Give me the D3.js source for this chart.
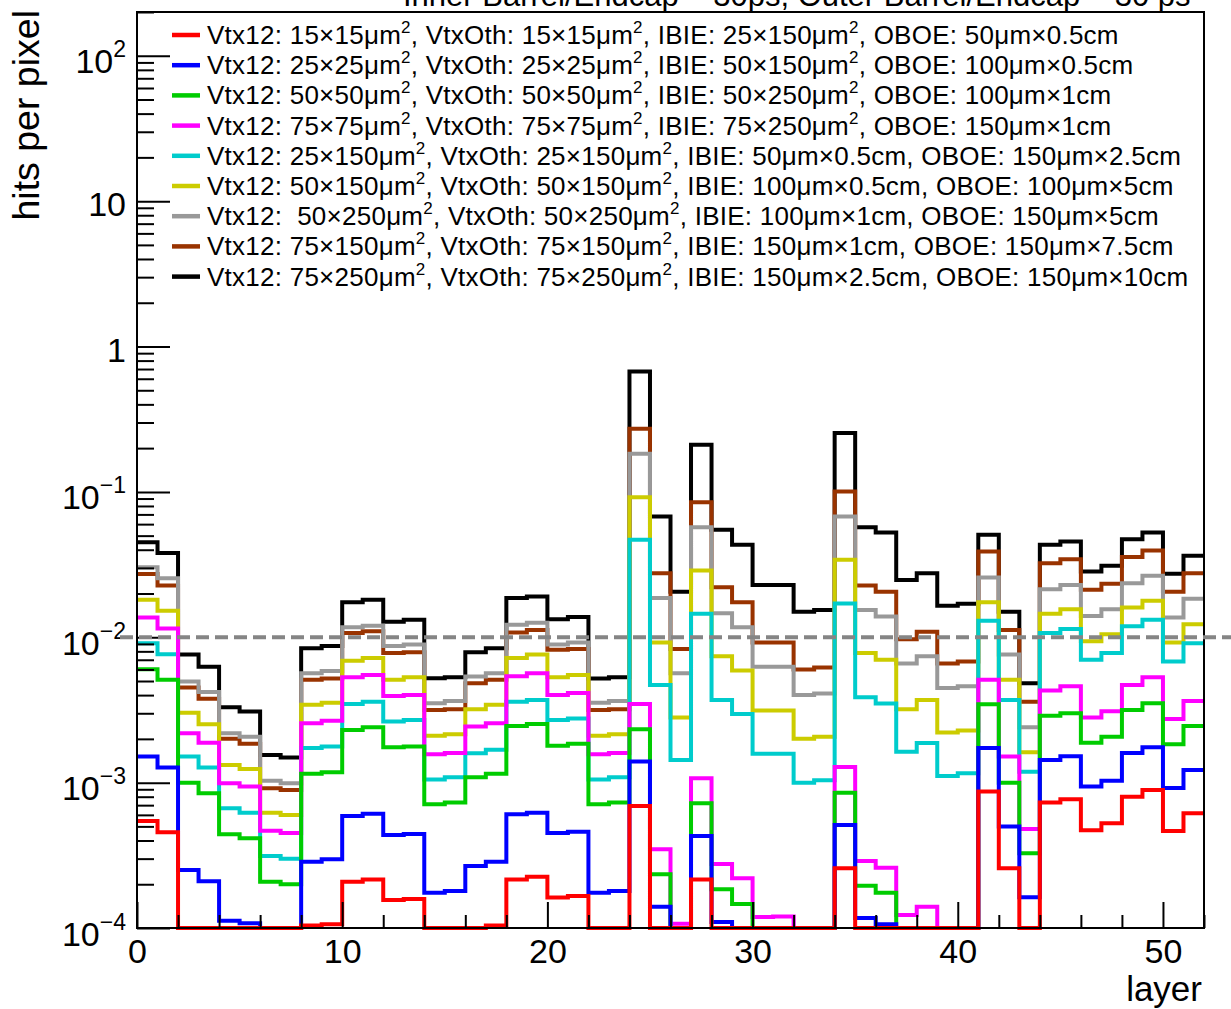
<!DOCTYPE html>
<html>
<head>
<meta charset="utf-8">
<script src="https://cdn.jsdelivr.net/npm/d3@7"></script>
<style>
  html, body { margin: 0; padding: 0; background: #ffffff; }
  svg { display: block; font-family: "Liberation Sans", Arial, Helvetica, sans-serif; }
  text { white-space: pre; }
</style>
</head>
<body>
<svg id="chart" width="1231" height="1009"></svg>
<script>
// ---- data: hits per pixel for each of the 52 layers (bin i covers [i, i+1)) ----
const layerEdges = d3.range(53);

const hits15x15 = [5.45e-4, 4.55e-4, 0, 0, 0, 0, 0, 0, 1.04e-4, 1.06e-4,
  2.08e-4, 2.16e-4, 1.56e-4, 1.58e-4, 0, 0, 0, 1.04e-4, 2.16e-4, 2.25e-4,
  1.62e-4, 1.66e-4, 0, 0, 6.9e-4, 0, 0, 2.16e-4, 0, 0,
  0, 0, 0, 0, 2.58e-4, 0, 0, 0, 0, 0,
  0, 8.7e-4, 2.58e-4, 0, 7.3e-4, 7.7e-4, 4.7e-4, 5.25e-4, 8.0e-4, 8.9e-4,
  4.65e-4, 6.15e-4];

const hits25x25 = [1.51e-3, 1.27e-3, 2.51e-4, 2.1e-4, 1.12e-4, 1.08e-4, 0, 0, 2.86e-4, 2.97e-4,
  5.9e-4, 6.1e-4, 4.37e-4, 4.43e-4, 1.75e-4, 1.8e-4, 2.67e-4, 2.86e-4, 6.06e-4, 6.2e-4,
  4.5e-4, 4.6e-4, 1.75e-4, 1.8e-4, 1.4e-3, 1.4e-4, 0, 4.3e-4, 1.1e-4, 0,
  0, 0, 0, 0, 5.12e-4, 1.17e-4, 1.06e-4, 0, 0, 0,
  0, 1.73e-3, 5.0e-4, 1.63e-4, 1.43e-3, 1.52e-3, 9.4e-4, 1.03e-3, 1.6e-3, 1.75e-3,
  9.2e-4, 1.22e-3];

const hits50x50 = [6.03e-3, 5.1e-3, 1.0e-3, 8.45e-4, 4.41e-4, 4.14e-4, 2.08e-4, 2.0e-4, 1.15e-3, 1.18e-3,
  2.3e-3, 2.4e-3, 1.75e-3, 1.77e-3, 7.1e-4, 7.3e-4, 1.09e-3, 1.15e-3, 2.45e-3, 2.53e-3,
  1.79e-3, 1.85e-3, 7.1e-4, 7.3e-4, 2.33e-3, 2.34e-4, 0, 7.2e-4, 1.85e-4, 1.46e-4,
  0, 0, 0, 0, 8.53e-4, 1.95e-4, 1.75e-4, 0, 0, 0,
  0, 3.46e-3, 1.0e-3, 3.27e-4, 2.88e-3, 3.0e-3, 1.88e-3, 2.07e-3, 3.16e-3, 3.52e-3,
  1.84e-3, 2.45e-3];

const hits75x75 = [1.37e-2, 1.15e-2, 2.19e-3, 1.88e-3, 9.9e-4, 9.4e-4, 4.67e-4, 4.5e-4, 2.56e-3, 2.66e-3,
  5.3e-3, 5.5e-3, 3.95e-3, 4.0e-3, 1.57e-3, 1.6e-3, 2.43e-3, 2.56e-3, 5.4e-3, 5.66e-3,
  4.0e-3, 4.14e-3, 1.57e-3, 1.6e-3, 3.48e-3, 3.48e-4, 1.07e-4, 1.07e-3, 2.76e-4, 2.2e-4,
  1.19e-4, 1.2e-4, 0, 0, 1.28e-3, 2.89e-4, 2.6e-4, 1.23e-4, 1.4e-4, 0,
  0, 5.1e-3, 1.51e-3, 4.8e-4, 4.3e-3, 4.6e-3, 2.8e-3, 3.1e-3, 4.7e-3, 5.3e-3,
  2.74e-3, 3.65e-3];

const hits25x150 = [9.1e-3, 7.65e-3, 1.51e-3, 1.27e-3, 6.67e-4, 6.2e-4, 3.13e-4, 3.0e-4, 1.73e-3, 1.77e-3,
  3.48e-3, 3.6e-3, 2.63e-3, 2.7e-3, 1.05e-3, 1.09e-3, 1.59e-3, 1.68e-3, 3.6e-3, 3.7e-3,
  2.7e-3, 2.76e-3, 1.05e-3, 1.09e-3, 4.68e-2, 4.7e-3, 1.43e-3, 1.45e-2, 3.7e-3, 2.96e-3,
  1.58e-3, 1.58e-3, 1.0e-3, 1.04e-3, 1.71e-2, 3.87e-3, 3.5e-3, 1.63e-3, 1.87e-3, 1.11e-3,
  1.16e-3, 1.3e-2, 3.7e-3, 1.19e-3, 1.07e-2, 1.14e-2, 7.0e-3, 7.8e-3, 1.19e-2, 1.32e-2,
  6.8e-3, 9.1e-3];

const hits50x150 = [1.81e-2, 1.52e-2, 3.03e-3, 2.52e-3, 1.32e-3, 1.24e-3, 6.2e-4, 6.0e-4, 3.43e-3, 3.55e-3,
  6.9e-3, 7.2e-3, 5.1e-3, 5.3e-3, 2.1e-3, 2.15e-3, 3.2e-3, 3.43e-3, 7.2e-3, 7.6e-3,
  5.3e-3, 5.5e-3, 2.1e-3, 2.15e-3, 9.2e-2, 9.2e-3, 2.8e-3, 2.88e-2, 7.4e-3, 5.9e-3,
  3.13e-3, 3.13e-3, 2.0e-3, 2.07e-3, 3.41e-2, 7.8e-3, 7.0e-3, 3.2e-3, 3.7e-3, 2.21e-3,
  2.28e-3, 1.74e-2, 5.1e-3, 1.62e-3, 1.45e-2, 1.56e-2, 9.4e-3, 1.05e-2, 1.6e-2, 1.78e-2,
  9.2e-3, 1.23e-2];

const hits50x250 = [3.03e-2, 2.55e-2, 4.96e-3, 4.2e-3, 2.19e-3, 2.07e-3, 1.03e-3, 9.9e-4, 5.66e-3, 5.87e-3,
  1.17e-2, 1.2e-2, 8.7e-3, 8.9e-3, 3.52e-3, 3.65e-3, 5.37e-3, 5.66e-3, 1.22e-2, 1.26e-2,
  8.9e-3, 9.2e-3, 3.55e-3, 3.65e-3, 0.183, 1.86e-2, 5.66e-3, 5.72e-2, 1.46e-2, 1.17e-2,
  6.28e-3, 6.28e-3, 4.0e-3, 4.1e-3, 6.78e-2, 1.54e-2, 1.39e-2, 6.6e-3, 7.4e-3, 4.47e-3,
  4.6e-3, 2.58e-2, 7.6e-3, 2.4e-3, 2.14e-2, 2.29e-2, 1.40e-2, 1.56e-2, 2.35e-2, 2.65e-2,
  1.37e-2, 1.84e-2];

const hits75x150 = [2.72e-2, 2.27e-2, 4.51e-3, 3.77e-3, 2.0e-3, 1.85e-3, 9.15e-4, 8.9e-4, 5.1e-3, 5.2e-3,
  1.07e-2, 1.1e-2, 7.8e-3, 7.9e-3, 3.16e-3, 3.2e-3, 4.83e-3, 5.1e-3, 1.08e-2, 1.12e-2,
  8.2e-3, 8.3e-3, 3.16e-3, 3.2e-3, 0.272, 2.76e-2, 8.3e-3, 8.5e-2, 2.21e-2, 1.74e-2,
  9.2e-3, 9.2e-3, 6.0e-3, 6.2e-3, 0.1006, 2.27e-2, 2.06e-2, 9.7e-3, 1.09e-2, 6.6e-3,
  6.8e-3, 3.89e-2, 1.12e-2, 3.6e-3, 3.23e-2, 3.44e-2, 2.12e-2, 2.33e-2, 3.56e-2, 3.95e-2,
  2.06e-2, 2.76e-2];

const hits75x250 = [4.5e-2, 3.8e-2, 7.6e-3, 6.28e-3, 3.3e-3, 3.08e-3, 1.55e-3, 1.49e-3, 8.4e-3, 8.7e-3,
  1.74e-2, 1.81e-2, 1.28e-2, 1.32e-2, 5.23e-3, 5.3e-3, 7.9e-3, 8.4e-3, 1.86e-2, 1.91e-2,
  1.33e-2, 1.38e-2, 5.2e-3, 5.3e-3, 0.673, 6.78e-2, 2.06e-2, 0.211, 5.48e-2, 4.33e-2,
  2.29e-2, 2.29e-2, 1.5e-2, 1.54e-2, 0.254, 5.71e-2, 5.26e-2, 2.48e-2, 2.76e-2, 1.65e-2,
  1.7e-2, 5.07e-2, 1.5e-2, 4.83e-3, 4.33e-2, 4.56e-2, 2.83e-2, 3.1e-2, 4.73e-2, 5.26e-2,
  2.73e-2, 3.63e-2];

const seriesValues = [hits15x15, hits25x25, hits50x50, hits75x75, hits25x150,
                      hits50x150, hits50x250, hits75x150, hits75x250];

const seriesColors = ["#ff0000", "#0000ff", "#00cc00", "#ff00ff", "#00cccc",
                      "#cccc00", "#999999", "#993300", "#000000"];

const legendLabels = [
  "Vtx12: 15×15μm^2, VtxOth: 15×15μm^2, IBIE: 25×150μm^2, OBOE: 50μm×0.5cm",
  "Vtx12: 25×25μm^2, VtxOth: 25×25μm^2, IBIE: 50×150μm^2, OBOE: 100μm×0.5cm",
  "Vtx12: 50×50μm^2, VtxOth: 50×50μm^2, IBIE: 50×250μm^2, OBOE: 100μm×1cm",
  "Vtx12: 75×75μm^2, VtxOth: 75×75μm^2, IBIE: 75×250μm^2, OBOE: 150μm×1cm",
  "Vtx12: 25×150μm^2, VtxOth: 25×150μm^2, IBIE: 50μm×0.5cm, OBOE: 150μm×2.5cm",
  "Vtx12: 50×150μm^2, VtxOth: 50×150μm^2, IBIE: 100μm×0.5cm, OBOE: 100μm×5cm",
  "Vtx12:  50×250μm^2, VtxOth: 50×250μm^2, IBIE: 100μm×1cm, OBOE: 150μm×5cm",
  "Vtx12: 75×150μm^2, VtxOth: 75×150μm^2, IBIE: 150μm×1cm, OBOE: 150μm×7.5cm",
  "Vtx12: 75×250μm^2, VtxOth: 75×250μm^2, IBIE: 150μm×2.5cm, OBOE: 150μm×10cm"
];

const xMajorTicks = [0, 10, 20, 30, 40, 50];
const xMinorTicks = d3.range(0, 53, 2);
const yMajorTicks = [1e-4, 1e-3, 1e-2, 1e-1, 1, 10, 100];
const yTickLabels = [["10", "−4"], ["10", "−3"], ["10", "−2"], ["10", "−1"], ["1", ""], ["10", ""], ["10", "2"]];
const referenceLevel = 1e-2;

const titleText = "Inner Barrel/Endcap – 30ps, Outer Barrel/Endcap – 30 ps";
const xTitle = "layer";
const yTitle = "hits per pixel";

// ---- layout ----
const frame = { left: 137, right: 1204, top: 12, bottom: 928 };
const yMin = 1e-4, yMax = 200;

const svg = d3.select("#chart");
const x = d3.scaleLinear().domain([0, 52]).range([frame.left, frame.right]);
const y = d3.scaleLog().domain([yMin, yMax]).range([frame.bottom, frame.top]);

// title (sits above the frame, running off the page top)
svg.append("text")
  .attr("x", 403).attr("y", 6)
  .attr("font-size", 31)
  .text(titleText);

// ---- histograms: drawn from last legend entry to first so red ends on top ----
const stepLine = d3.line().x(d => x(d[0])).y(d => y(Math.max(d[1], yMin)));
function stepPoints(vals) {
  const pts = [];
  vals.forEach((v, i) => { pts.push([layerEdges[i], v]); pts.push([layerEdges[i + 1], v]); });
  return pts;
}
const order = d3.range(seriesValues.length).reverse();
svg.append("g").selectAll("path")
  .data(order)
  .join("path")
  .attr("d", i => stepLine(stepPoints(seriesValues[i])))
  .attr("fill", "none")
  .attr("stroke", i => seriesColors[i])
  .attr("stroke-width", 4)
  .attr("stroke-linejoin", "miter")
  .attr("stroke-linecap", "butt");

// ---- axes ticks (inside the frame, ROOT style) ----
const yMinor = [];
for (let e = -4; e <= 2; e++) for (let k = 2; k <= 9; k++) {
  const v = k * Math.pow(10, e);
  if (v <= yMax) yMinor.push(v);
}
const axG = svg.append("g").attr("stroke-width", 2);
axG.append("g").attr("transform", `translate(${frame.left},0)`)
  .call(d3.axisRight(y).tickValues(yMajorTicks).tickSize(33).tickFormat(""));
axG.append("g").attr("transform", `translate(${frame.left},0)`)
  .call(d3.axisRight(y).tickValues(yMinor).tickSize(17).tickFormat(""));
axG.append("g").attr("transform", `translate(0,${frame.bottom})`)
  .call(d3.axisTop(x).tickValues(xMajorTicks).tickSize(26).tickFormat(""));
axG.append("g").attr("transform", `translate(0,${frame.bottom})`)
  .call(d3.axisTop(x).tickValues(xMinorTicks.filter(v => v % 10 !== 0)).tickSize(13).tickFormat(""));
axG.selectAll(".domain").remove();
axG.selectAll(".tick line").attr("stroke", "#000").attr("stroke-width", 2);

// x tick labels
const xLab = svg.append("g").attr("transform", `translate(0,${frame.bottom})`)
  .call(d3.axisBottom(x).tickValues(xMajorTicks).tickSize(0).tickPadding(11).tickFormat(d3.format("d")));
xLab.select(".domain").remove();
xLab.selectAll("text").attr("font-size", 34).attr("font-family", null).attr("fill", "#000");

// y tick labels with superscript exponents
const yLab = svg.append("g");
yMajorTicks.forEach((v, i) => {
  const [base, exp] = yTickLabels[i];
  const t = yLab.append("text")
    .attr("x", 126)
    .attr("y", y(v) + (exp ? 17.5 : 15))
    .attr("text-anchor", "end")
    .attr("font-size", 34);
  t.append("tspan").text(base);
  if (exp) t.append("tspan").attr("dy", -16).attr("font-size", 23).text(exp);
});

// axis titles
svg.append("text")
  .attr("x", 1202).attr("y", 1001)
  .attr("text-anchor", "end")
  .attr("font-size", 35)
  .text(xTitle);
svg.append("text")
  .attr("transform", `translate(39,${frame.top - 2}) rotate(-90)`)
  .attr("text-anchor", "end")
  .attr("font-size", 37.5)
  .text(yTitle);

// frame
svg.append("rect")
  .attr("x", frame.left).attr("y", frame.top)
  .attr("width", frame.right - frame.left).attr("height", frame.bottom - frame.top)
  .attr("fill", "none").attr("stroke", "#000").attr("stroke-width", 2);

// reference level line
svg.append("line")
  .attr("x1", 120).attr("x2", 1231)
  .attr("y1", y(referenceLevel)).attr("y2", y(referenceLevel))
  .attr("stroke", "#858585").attr("stroke-width", 4)
  .attr("stroke-dasharray", "13,6");

// ---- legend ----
const legend = svg.append("g");
legendLabels.forEach((label, i) => {
  const cy = 35 + i * 30.2;
  legend.append("line")
    .attr("x1", 172).attr("x2", 200).attr("y1", cy).attr("y2", cy)
    .attr("stroke", seriesColors[i]).attr("stroke-width", 4.5);
  const t = legend.append("text")
    .attr("x", 207).attr("y", cy + 9)
    .attr("font-size", 26)
    .attr("letter-spacing", 0.25);
  const parts = label.split("^2");
  parts.forEach((p, j) => {
    t.append("tspan").attr("dy", j > 0 ? 11 : 0).text(p);
    if (j < parts.length - 1) {
      t.append("tspan").attr("dy", -11).attr("font-size", 17).text("2");
    }
  });
});
</script>
</body>
</html>
